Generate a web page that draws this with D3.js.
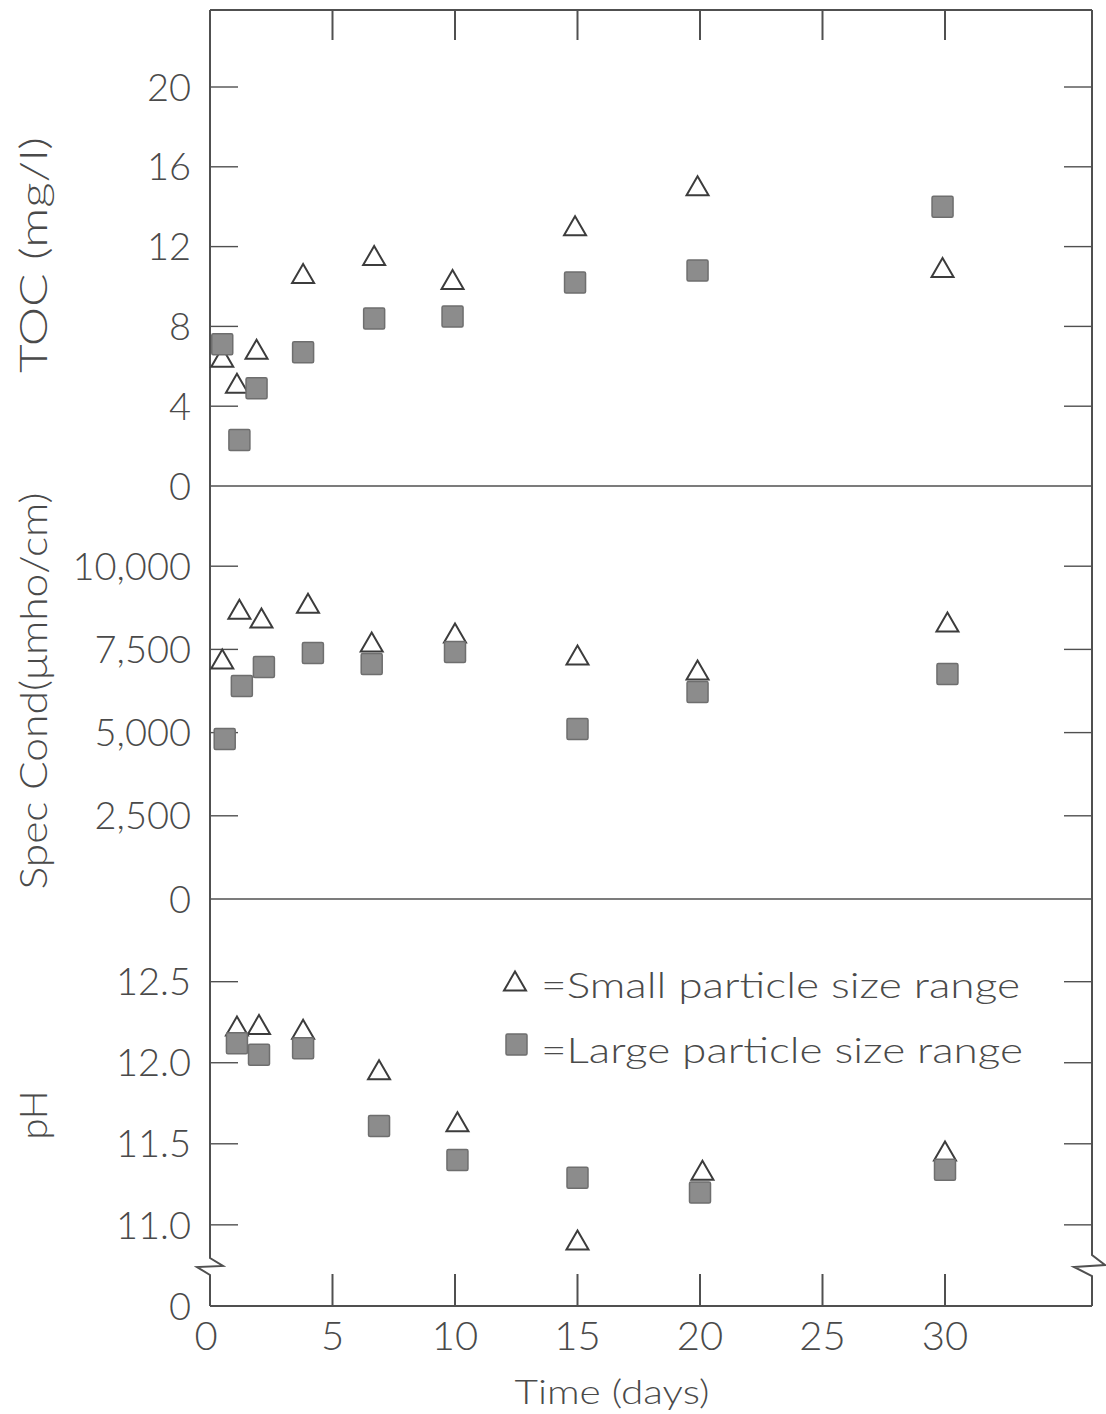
<!DOCTYPE html>
<html>
<head>
<meta charset="utf-8">
<script src="https://cdn.jsdelivr.net/npm/d3@7"></script>
<style>
  html, body { margin: 0; padding: 0; background: #fff; }
  svg { display: block; }
  text { font-family: Lato, "Open Sans", "DejaVu Sans", sans-serif; font-weight: 300; fill: #4a4a4a; }
</style>
</head>
<body>
<svg id="chart" width="1106" height="1414"></svg>
<script>
// ---------------- data ----------------
const xTicks = [0, 5, 10, 15, 20, 25, 30];
const xTickLabels = ["0", "5", "10", "15", "20", "25", "30"];

const tocTicks = [0, 4, 8, 12, 16, 20];
const tocTickLabels = ["0", "4", "8", "12", "16", "20"];
const condTicks = [0, 2500, 5000, 7500, 10000];
const condTickLabels = ["0", "2,500", "5,000", "7,500", "10,000"];
const phTicks = [11.0, 11.5, 12.0, 12.5];
const phTickLabels = ["11.0", "11.5", "12.0", "12.5"];
const phBreakLabel = "0";

// TOC (mg/l)
const tocSmallDays = [0.5, 1.1, 1.9, 3.8, 6.7, 9.9, 14.9, 19.9, 29.9];
const tocSmall     = [6.4, 5.1, 6.8, 10.6, 11.5, 10.3, 13.0, 15.0, 10.9];
const tocLargeDays = [0.5, 1.2, 1.9, 3.8, 6.7, 9.9, 14.9, 19.9, 29.9];
const tocLarge     = [7.1, 2.3, 4.9, 6.7, 8.4, 8.5, 10.2, 10.8, 14.0];

// Specific conductance (umho/cm)
const condSmallDays = [0.5, 1.2, 2.1, 4.0, 6.6, 10.0, 15.0, 19.9, 30.1];
const condSmall     = [7180, 8680, 8410, 8860, 7690, 7960, 7300, 6850, 8290];
const condLargeDays = [0.6, 1.3, 2.2, 4.2, 6.6, 10.0, 15.0, 19.9, 30.1];
const condLarge     = [4810, 6400, 6970, 7390, 7060, 7420, 5110, 6220, 6760];

// pH
const phSmallDays = [1.1, 2.0, 3.8, 6.9, 10.1, 15.0, 20.1, 30.0];
const phSmall     = [12.22, 12.23, 12.20, 11.95, 11.63, 10.90, 11.33, 11.45];
const phLargeDays = [1.1, 2.0, 3.8, 6.9, 10.1, 15.0, 20.0, 30.0];
const phLarge     = [12.12, 12.05, 12.09, 11.61, 11.40, 11.29, 11.20, 11.34];

const legendLabels = ["=Small particle size range", "=Large particle size range"];
const xTitle = "Time (days)";
const yTitles = ["TOC (mg/l)", "Spec Cond(\u03BCmho/cm)", "pH"];

// ---------------- layout ----------------
const L = 210, R = 1092, T = 10, B = 1306;
const yTocZero = 486, yCondZero = 899, yBreak = 1267;
const ink = "#505050";

const svg = d3.select("#chart");

const x = d3.scaleLinear().domain([0, 36.0]).range([L, R]);
const yToc = d3.scaleLinear().domain([0, 23.86]).range([yTocZero, T]);
const yCond = d3.scaleLinear().domain([0, 12410]).range([yCondZero, yTocZero]);
const yPh = d3.scaleLinear().domain([10.74, 13.01]).range([yBreak, yCondZero]);

// frame: top, bottom, dividers
const g = svg.append("g").attr("stroke", ink).attr("stroke-width", 2).attr("fill", "none");
g.append("line").attr("x1", L).attr("x2", R).attr("y1", T).attr("y2", T);
g.append("line").attr("x1", L).attr("x2", R).attr("y1", B).attr("y2", B);
g.append("line").attr("x1", L).attr("x2", R).attr("y1", yTocZero).attr("y2", yTocZero).attr("stroke-width", 1.6);
g.append("line").attr("x1", L).attr("x2", R).attr("y1", yCondZero).attr("y2", yCondZero).attr("stroke-width", 1.6);

// left and right axes with break
g.append("path").attr("d",
  `M${L},${T} L${L},${yBreak - 9} L${L + 13},${yBreak - 1} L${L - 13},${yBreak} L${L},${yBreak + 8} L${L},${B}`);
g.append("path").attr("d",
  `M${R},${T} L${R},${yBreak - 12} L${R + 13},${yBreak - 2} L${R - 18},${yBreak} L${R},${yBreak + 9} L${R},${B}`);

// x ticks (top and bottom, inward)
const xt = xTicks.filter(d => d > 0);
g.selectAll(".xtTop").data(xt).enter().append("line")
  .attr("x1", d => x(d)).attr("x2", d => x(d)).attr("y1", T).attr("y2", T + 30);
g.selectAll(".xtBot").data(xt).enter().append("line")
  .attr("x1", d => x(d)).attr("x2", d => x(d)).attr("y1", B).attr("y2", B - 32);

// y ticks both sides
function yTicksDraw(scale, ticks) {
  const t = ticks.filter(d => scale(d) < scale.range()[0] - 1);
  g.selectAll(null).data(t).enter().append("line")
    .attr("x1", L).attr("x2", L + 28).attr("y1", d => scale(d)).attr("y2", d => scale(d)).attr("stroke-width", 1.4);
  g.selectAll(null).data(t).enter().append("line")
    .attr("x1", R).attr("x2", R - 28).attr("y1", d => scale(d)).attr("y2", d => scale(d)).attr("stroke-width", 1.4);
}
yTicksDraw(yToc, tocTicks);
yTicksDraw(yCond, condTicks);
yTicksDraw(yPh, phTicks);

// tick labels
const fs = 38;
function yLabels(scale, ticks, labels) {
  svg.append("g").selectAll("text").data(ticks).enter().append("text")
    .attr("x", 191).attr("y", d => scale(d)).attr("dy", "0.36em")
    .attr("text-anchor", "end").attr("font-size", fs)
    .text((d, i) => labels[i]);
}
yLabels(yToc, tocTicks, tocTickLabels);
yLabels(yCond, condTicks.filter(d => d > 0), condTickLabels.slice(1));
svg.append("text").attr("x", 191).attr("y", yCond(0)).attr("dy", "0.36em")
  .attr("text-anchor", "end").attr("font-size", fs).text(condTickLabels[0]);
yLabels(yPh, phTicks, phTickLabels);
svg.append("text").attr("x", 191).attr("y", B).attr("dy", "0.36em")
  .attr("text-anchor", "end").attr("font-size", fs).text(phBreakLabel);

svg.append("g").selectAll("text").data(xTicks).enter().append("text")
  .attr("x", d => x(d) - (d === 0 ? 4 : 0)).attr("y", 1350)
  .attr("text-anchor", "middle").attr("font-size", 40)
  .text((d, i) => xTickLabels[i]);

// axis titles
svg.append("text").attr("x", 612).attr("y", 1404).attr("text-anchor", "middle")
  .attr("font-size", 33).attr("textLength", 195).attr("lengthAdjust", "spacingAndGlyphs").text(xTitle);
const yTitlePos = [[255, 236], [691, 397], [1115, 0]];
yTitles.forEach((t, i) => {
  const tx = svg.append("text")
    .attr("transform", `translate(47,${yTitlePos[i][0]}) rotate(-90)`)
    .attr("text-anchor", "middle").attr("font-size", 38).text(t);
  if (yTitlePos[i][1]) tx.attr("textLength", yTitlePos[i][1]).attr("lengthAdjust", "spacingAndGlyphs");
});

// ---------------- marks ----------------
const triPath = "M0,-10.5 L11,8.5 L-11,8.5 Z";
function triangles(days, vals, ys) {
  svg.append("g").selectAll("path").data(days).enter().append("path")
    .attr("d", triPath)
    .attr("transform", (d, i) => `translate(${x(d)},${ys(vals[i])})`)
    .attr("fill", "#fff").attr("stroke", "#3c3c3c").attr("stroke-width", 2);
}
function squares(days, vals, ys) {
  svg.append("g").selectAll("rect").data(days).enter().append("rect")
    .attr("x", d => x(d) - 10.5).attr("y", (d, i) => ys(vals[i]) - 10.5)
    .attr("width", 21).attr("height", 21).attr("rx", 1.5)
    .attr("fill", "#8c8c8c").attr("stroke", "#6e6e6e").attr("stroke-width", 1.5);
}
triangles(tocSmallDays, tocSmall, yToc);
squares(tocLargeDays, tocLarge, yToc);
triangles(condSmallDays, condSmall, yCond);
squares(condLargeDays, condLarge, yCond);
triangles(phSmallDays, phSmall, yPh);
squares(phLargeDays, phLarge, yPh);

// ---------------- legend ----------------
const leg = svg.append("g");
leg.append("path").attr("d", triPath).attr("transform", "translate(515,982)")
  .attr("fill", "#fff").attr("stroke", "#3c3c3c").attr("stroke-width", 2);
leg.append("rect").attr("x", 506).attr("y", 1034).attr("width", 21).attr("height", 21).attr("rx", 1.5)
  .attr("fill", "#8c8c8c").attr("stroke", "#6e6e6e").attr("stroke-width", 1.5);
leg.append("text").attr("x", 541).attr("y", 998).attr("font-size", 36)
  .attr("textLength", 479).attr("lengthAdjust", "spacingAndGlyphs").text(legendLabels[0]);
leg.append("text").attr("x", 541).attr("y", 1063).attr("font-size", 36)
  .attr("textLength", 482).attr("lengthAdjust", "spacingAndGlyphs").text(legendLabels[1]);
</script>
</body>
</html>
